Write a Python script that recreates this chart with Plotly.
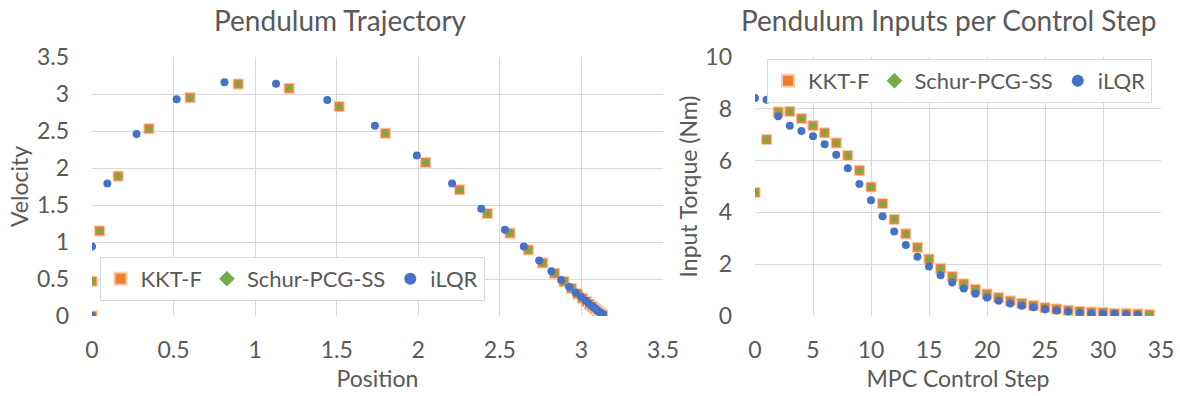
import plotly.graph_objects as go

# ---------------- data ----------------
# Pendulum trajectory: position / velocity
kkt_pos = [0, 0, 0.047, 0.160, 0.349, 0.601, 0.896, 1.208, 1.515, 1.798, 2.045, 2.253,
           2.423, 2.562, 2.674, 2.763, 2.835, 2.893, 2.939, 2.976, 3.006, 3.030, 3.050,
           3.066, 3.079, 3.090, 3.098, 3.105, 3.111, 3.115, 3.119, 3.122, 3.125, 3.127,
           3.129, 3.130]
kkt_vel = [0, 0.47, 1.15, 1.89, 2.53, 2.95, 3.135, 3.076, 2.83, 2.47, 2.075, 1.705,
           1.385, 1.12, 0.893, 0.717, 0.577, 0.465, 0.374, 0.300, 0.240, 0.195, 0.158,
           0.128, 0.104, 0.085, 0.069, 0.057, 0.047, 0.039, 0.032, 0.027, 0.022, 0.018,
           0.015, 0.012]
schur_pos = list(kkt_pos)
schur_vel = list(kkt_vel)
ilqr_pos = [0, 0, 0.094, 0.273, 0.519, 0.812, 1.128, 1.442, 1.734, 1.991, 2.207, 2.386,
            2.531, 2.647, 2.741, 2.816, 2.876, 2.925, 2.964, 2.996, 3.022, 3.043, 3.061,
            3.075, 3.087, 3.096, 3.104, 3.111, 3.116, 3.121, 3.124, 3.127, 3.130, 3.132,
            3.133]
ilqr_vel = [0, 0.94, 1.79, 2.46, 2.93, 3.16, 3.14, 2.92, 2.57, 2.17, 1.79, 1.448, 1.164,
            0.938, 0.749, 0.605, 0.487, 0.392, 0.316, 0.262, 0.214, 0.175, 0.143, 0.117,
            0.096, 0.079, 0.065, 0.053, 0.044, 0.036, 0.030, 0.025, 0.020, 0.017, 0.014]

# Inputs per MPC control step
kkt_steps = list(range(35))
kkt_torque = [4.77, 6.81, 7.88, 7.90, 7.62, 7.35, 7.07, 6.68, 6.20, 5.62, 4.98, 4.34,
              3.73, 3.17, 2.65, 2.20, 1.83, 1.52, 1.24, 1.03, 0.85, 0.71, 0.58, 0.49,
              0.40, 0.32, 0.27, 0.22, 0.18, 0.15, 0.13, 0.10, 0.09, 0.08, 0.05]
schur_steps = list(kkt_steps)
schur_torque = list(kkt_torque)
ilqr_steps = list(range(34))
ilqr_torque = [8.42, 8.35, 7.71, 7.35, 7.14, 6.94, 6.63, 6.23, 5.70, 5.10, 4.47, 3.85,
               3.26, 2.74, 2.29, 1.91, 1.57, 1.29, 1.06, 0.86, 0.71, 0.59, 0.48, 0.40,
               0.34, 0.26, 0.21, 0.17, 0.13, 0.10, 0.09, 0.08, 0.06, 0.05]

series_names = ["KKT-F", "Schur-PCG-SS", "iLQR"]
x_ticks_left = [0, 0.5, 1, 1.5, 2, 2.5, 3, 3.5]
y_ticks_left = [0, 0.5, 1, 1.5, 2, 2.5, 3, 3.5]
x_ticks_right = [0, 5, 10, 15, 20, 25, 30, 35]
y_ticks_right = [0, 2, 4, 6, 8, 10]

# ---------------- styling ----------------
FONT = "Lato"
TXT = "#595959"
GRID = "#D9D9D9"
ORANGE = "#ED7D31"
GREEN = "#70AD47"
BLUE = "#4472C4"

fig = go.Figure()

def add_set(xa, ya, xs, ys, legend):
    styles = [
        dict(symbol="square", size=10, color=ORANGE, line=dict(color="#F8CBAD", width=1)),
        dict(symbol="diamond", size=6, color=GREEN, line=dict(width=0)),
        dict(symbol="circle", size=8, color=BLUE, line=dict(width=0)),
    ]
    for name, x, y, st in zip(series_names, xs, ys, styles):
        fig.add_trace(go.Scatter(x=x, y=y, mode="markers", name=name, marker=st,
                                 xaxis=xa, yaxis=ya, legend=legend, hoverinfo="x+y"))

add_set("x", "y", [kkt_pos, schur_pos, ilqr_pos], [kkt_vel, schur_vel, ilqr_vel], "legend")
add_set("x2", "y2", [kkt_steps, schur_steps, ilqr_steps],
        [kkt_torque, schur_torque, ilqr_torque], "legend2")

W, H = 1180, 396
def px_x(p):
    return p / W
def px_y(p):
    return 1 - p / H

tickfont = dict(family=FONT, size=23, color=TXT)
titlefont = dict(family=FONT, size=23, color=TXT)

common_axis = dict(showgrid=True, gridcolor=GRID, gridwidth=1, zeroline=False,
                   showline=False, ticks="", tickfont=tickfont, title_font=titlefont,
                   automargin=False)

legend_common = dict(orientation="h", bgcolor="white", bordercolor=GRID, borderwidth=1,
                     font=dict(family=FONT, size=22, color=TXT), itemsizing="constant",
                     yanchor="middle")

fig.update_layout(
    width=W, height=H,
    margin=dict(l=0, r=0, t=0, b=0, autoexpand=False),
    paper_bgcolor="white", plot_bgcolor="white",
    showlegend=True,
    xaxis=dict(domain=[px_x(92), px_x(663)], range=[0, 3.5], tickvals=x_ticks_left,
               ticktext=[f"{v:g}" for v in x_ticks_left], ticklabelstandoff=18,
               title=dict(text="Position", standoff=8), **common_axis),
    yaxis=dict(domain=[px_y(316), px_y(57)], range=[0, 3.5], tickvals=y_ticks_left,
               ticktext=[f"{v:g}" for v in y_ticks_left], ticklabelstandoff=22,
               title=dict(text="Velocity", standoff=1), **common_axis),
    xaxis2=dict(domain=[px_x(755), px_x(1161)], range=[0, 35], tickvals=x_ticks_right,
                ticktext=[f"{v:g}" for v in x_ticks_right], ticklabelstandoff=18,
                anchor="y2",
                title=dict(text="MPC Control Step", standoff=8), **common_axis),
    yaxis2=dict(domain=[px_y(316), px_y(57)], range=[0, 10], tickvals=y_ticks_right,
                ticktext=[f"{v:g}" for v in y_ticks_right], ticklabelstandoff=22,
                anchor="x2",
                title=dict(text="Input Torque (Nm)", standoff=1), **common_axis),
    legend=dict(x=px_x(292), y=px_y(279), xanchor="center", **legend_common),
    legend2=dict(x=px_x(1152), y=px_y(81), xanchor="right", **legend_common),
    annotations=[
        dict(text="Pendulum Trajectory", x=px_x(340), y=px_y(20), xref="paper", yref="paper",
             showarrow=False, xanchor="center", yanchor="middle",
             font=dict(family=FONT, size=28, color=TXT)),
        dict(text="Pendulum Inputs per Control Step", x=px_x(948), y=px_y(20), xref="paper",
             yref="paper", showarrow=False, xanchor="center", yanchor="middle",
             font=dict(family=FONT, size=28, color=TXT)),
    ],
)

fig.write_html("out.html", config={"displayModeBar": False},
               post_script="document.body.style.margin='0px';")
